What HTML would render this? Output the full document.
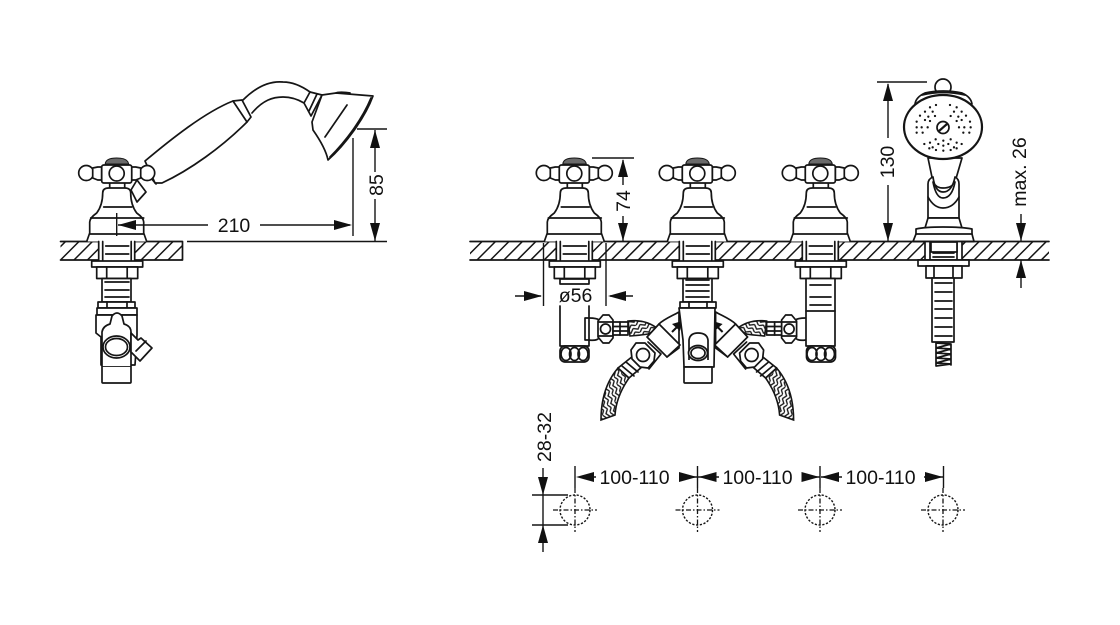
<!DOCTYPE html>
<html><head><meta charset="utf-8"><style>
html,body{margin:0;padding:0;background:#fff}
svg{display:block}
text{font-family:"Liberation Sans",Arial,sans-serif;font-size:19.5px;fill:#111}
.l{fill:none;stroke:#151515;stroke-width:1.7;stroke-linejoin:round;stroke-linecap:round}
.w{fill:#fff;stroke:#151515;stroke-width:1.7;stroke-linejoin:round}
.d{fill:none;stroke:#151515;stroke-width:1.4}
.c{fill:none;stroke:#151515;stroke-width:1.3;stroke-dasharray:5 2 1.5 2}
.o{fill:none;stroke:#151515;stroke-width:1.4;stroke-dasharray:2.2 1.6}
</style></head><body>
<svg width="1120" height="625" viewBox="0 0 1120 625" xmlns="http://www.w3.org/2000/svg">
<defs>
<pattern id="h" width="9.5" height="9.5" patternUnits="userSpaceOnUse" patternTransform="translate(4.8,0) rotate(45)"><line x1="4.75" y1="0" x2="4.75" y2="9.5" stroke="#151515" stroke-width="1.5"/></pattern>
<pattern id="b" width="8" height="8" patternUnits="userSpaceOnUse" patternTransform="rotate(-30)"><path d="M0 1L4 4L8 1M0 5L4 8L8 5" fill="none" stroke="#151515" stroke-width="1.3"/></pattern>
<pattern id="b2" width="8" height="8" patternUnits="userSpaceOnUse" patternTransform="rotate(70)"><path d="M0 1L4 4L8 1M0 5L4 8L8 5" fill="none" stroke="#151515" stroke-width="1.3"/></pattern>
<polygon id="a" points="0,0 -18,-5 -18,5" fill="#111"/>

<g id="tap">
<rect class="w" x="-7" y="182" width="15" height="7"/>
<path class="w" d="M-30 241.500L-27 233V222Q-27 218-20 213Q-14 205-14 193Q-14 188-8 188H8Q14 188 14 193Q14 205 20 213Q27 218 27 222V233L30 241.500"/>
<path class="l" d="M-13 207H15M-26 218H27M-27 234H27"/>
<circle class="w" cx="-30.500" cy="173" r="7.500"/><circle class="w" cx="30.500" cy="173" r="7.500"/>
<path class="w" d="M-24 168L-19 167H-15V180H-19L-24 178ZM24 168L19 167H15V180H19L24 178Z"/>
<rect class="w" x="-15" y="165" width="30" height="18" rx="2"/>
<circle class="w" cx="0" cy="173.500" r="7.500"/>
<path d="M-11.500 164Q-11 158 0 158Q11 158 12 164Z" fill="#6a6a6a" stroke="#151515"/>
</g>

<g id="shank">
<rect x="-18" y="241" width="36" height="20" fill="#fff"/>
<path class="l" d="M-18 241.500V260M-14 241.500V260M14.500 241.500V260M18 241.500V260M-11 246H12M-11 254H12"/>
<rect class="w" x="-25" y="261" width="51" height="6"/>
<rect class="w" x="-20" y="267" width="41" height="11.500"/>
<path class="l" d="M-10 267V278M10.500 267V278"/>
</g>

<g id="side">
<path class="w" d="M585 340V318H589Q597 318 599 320V338Q597 341 589 340Z"/>
<path class="w" d="M598 321L603 315H609L613 320V338L609 343H603L598 337Z"/>
<path class="l" d="M599 322H613M599 336H613"/>
<circle class="l" cx="605.500" cy="329" r="5"/>
<path class="w" d="M613 322H628V335H613Z"/>
<path class="l" d="M613 326.500H628M613 331H628M620 322V335"/>
<path d="M628 321Q646 319 658 329L648 334Q643 335 630 336Z" fill="url(#b)" stroke="#151515" stroke-width="1.6"/>
<path class="w" d="M659 324C664 319 672 316 679 312V348L667 357Z"/>
<path class="w" d="M647 337L659 324L680 345L667 357Z"/>
<path d="M672 332L679 325" stroke="#111" stroke-width="2"/>
<polygon points="682,321 680,331 672,324" fill="#111"/>
<path d="M618 368C606 382 601 400 601 420L615 415C616 400 622 388 629 378Z" fill="url(#b2)" stroke="#151515" stroke-width="1.6"/>
<path class="w" d="M618 368L633 356L643 366L629 378Z"/>
<path class="l" d="M622 366L634 376M626 362L638 372"/>
<path class="w" d="M631 350L636 343L645 343L655 353L654 361L648 368L640 367L632 359Z"/>
<circle class="l" cx="643" cy="355" r="6.500"/>
<path class="l" d="M648 342L661 354L649 369"/>
</g>
</defs>

<!-- left counter -->
<rect x="60.500" y="241.500" width="122" height="18.500" fill="url(#h)"/>
<path class="l" d="M60.500 241.500H182.500V260H60.500"/>
<path class="d" d="M187 241.500H387"/>

<!-- right counter -->
<rect x="470" y="241.500" width="579" height="18.500" fill="url(#h)"/>
<path class="l" d="M470 241.500H1049M470 260H1049"/>

<!-- hand shower left -->
<path class="w" d="M137 180L146 192L137 202L131 190Z"/>
<path class="w" d="M145 161C170 140 205 112 233 101L242 100L251 117L247 122C222 147 190 170 162 183L155 183Z"/>
<path class="l" d="M233 101L247 122M150 177L156 184"/>
<path class="l" d="M243 100C258 85 272 81 283 82C293 82 303 87 310 92M252 113C263 100 273 97 283 97C292 97 299 100 304 103"/>
<path class="w" d="M310 92L322 95L311 116L304 103Z"/>
<path class="l" d="M317 94L309 111"/>
<path class="w" d="M322 95L336 93L373 96C365 118 345 145 328 160C326 150 320 140 313 130L312 122Z"/>
<path class="l" d="M371 98C362 120 345 142 330 157M347 105L325 137M336 93C337 92 345 92 350 93"/>

<!-- left tap -->
<g transform="translate(116.700,0)"><use href="#tap"/><use href="#shank"/></g>
<rect class="w" x="102" y="278.500" width="29" height="23.500"/>
<path class="l" d="M105 282H129M105 290H129M105 297H129"/>
<rect class="w" x="98" y="302" width="37" height="6"/>
<path class="l" d="M107 302V307M127 302V307"/>
<rect class="w" x="97" y="308" width="40" height="7"/>
<path class="w" d="M96 315H137V335L135 365H101V337L96 333Z"/>
<path class="w" d="M102 366H131V382Q131 383 130 383H103Q102 383 102 382Z"/>
<path class="w" d="M102 366V332Q103 326 110 324L112 316Q117 310 122 316L124 324Q131 326 131 332V366"/>
<path class="w" d="M131 333L138 340L141 338L152 348L140 361L134 355L131 352Z"/>
<path class="l" d="M136 351L146 341"/>
<ellipse class="w" cx="116.500" cy="347" rx="13.500" ry="11"/>
<ellipse class="l" cx="116.500" cy="347" rx="11" ry="8.500"/>

<!-- taps on the right -->
<g transform="translate(574.300,0)"><use href="#tap"/><use href="#shank"/></g>
<g transform="translate(697.300,0)"><use href="#tap"/><use href="#shank"/></g>
<g transform="translate(820.300,0)"><use href="#tap"/><use href="#shank"/></g>

<!-- side valve connections -->
<use href="#side"/>
<use href="#side" transform="translate(1394.600,0) scale(-1,1)"/>

<!-- left riser -->
<path class="l" d="M560 279H589V284H560ZM560 306V346H589V306"/>
<rect class="w" x="560" y="346" width="29" height="16" rx="5"/>
<ellipse class="l" cx="566" cy="354" rx="5" ry="6.500"/><ellipse class="l" cx="574.500" cy="354" rx="5" ry="6.500"/><ellipse class="l" cx="583" cy="354" rx="5" ry="6.500"/>

<!-- right riser -->
<path class="w" d="M806 278.500H835V346H806Z"/>
<path class="l" d="M810 285H831M810 297H831M810 305H831M806 311H835"/>
<rect class="w" x="806.500" y="346" width="29" height="16" rx="5"/>
<ellipse class="l" cx="812" cy="354" rx="5" ry="6.500"/><ellipse class="l" cx="821" cy="354" rx="5" ry="6.500"/><ellipse class="l" cx="829.500" cy="354" rx="5" ry="6.500"/>

<!-- centre valve -->
<rect class="w" x="683" y="278.500" width="29" height="23.500"/>
<path class="l" d="M686 280H709M686 285H709M686 291H709M686 297H709"/>
<rect class="w" x="680" y="302" width="36" height="6"/>
<path class="l" d="M689 302V307M707 302V307"/>
<path class="w" d="M679 308H715L714 367H684L683 340Z"/>
<path class="w" d="M684 367H712V382Q712 383 711 383H685Q684 383 684 382Z"/>
<path class="w" d="M689 360V340Q690 333 698 333Q707 333 708 340V360"/>
<ellipse class="w" cx="698" cy="353" rx="9.500" ry="7.500"/>
<ellipse class="l" cx="698" cy="353" rx="7" ry="5.500"/>

<!-- right shower -->
<circle class="w" cx="943" cy="87" r="8"/>
<path class="w" d="M915 104Q916 97 925 93Q943 89 962 93Q971 97 972 104Z"/>
<path class="l" d="M922 95Q943 90 965 95"/>
<path class="w" d="M928 158L933 182Q936 188 943 188Q952 188 955 182L962 158Z"/>
<path class="w" d="M928 218V184Q928 179 933 177Q935 192 943 192Q952 192 955 177Q959 179 959 184V218Z"/>
<path class="l" d="M933 182Q936 198 943 198Q952 198 955 182"/>
<path class="l" d="M928 197Q934 208 943 208Q953 208 959 197"/>
<path class="w" d="M925 228L928 218H959L962 228Z"/>
<path class="w" d="M913 241.500L916 234V229Q925 227 943 227Q962 227 972 229V234L974 241.500Z"/>
<path class="l" d="M916 234H972"/>
<ellipse cx="943" cy="127" rx="39" ry="32" fill="#fff" stroke="#151515" stroke-width="2.200"/>
<g transform="translate(860,70) scale(.3333)">
<path fill="none" stroke="#151515" stroke-width="7" stroke-linecap="round" d="M228 105h0M210 112h0M218 125h0M225 138h0M195 125h0M205 140h0M210 153h0M180 137h0M195 150h0M170 155h0M170 172h0M185 172h0M203 172h0M170 188h0M188 188h0M270 105h0M290 112h0M282 125h0M272 138h0M305 125h0M295 140h0M290 153h0M318 137h0M305 150h0M330 155h0M297 172h0M313 172h0M332 172h0M310 188h0M328 188h0M250 212h0M250 227h0M250 242h0M227 208h0M235 222h0M228 240h0M210 218h0M218 232h0M193 222h0M208 235h0M272 208h0M265 222h0M272 240h0M290 218h0M282 232h0M305 222h0M290 235h0"/>
</g>
<circle class="l" cx="943" cy="127.500" r="6"/>
<path d="M939 131L947 124" stroke="#151515" stroke-width="2.200"/>

<rect x="925" y="241.500" width="37" height="19" fill="#fff"/>
<path class="l" d="M925 241.500V260M930 241.500V260M957 241.500V260M962 241.500V260"/>
<path class="w" d="M931 242H957V252H931Z"/>
<path class="l" d="M933 253H954M933 257H954M913 241.500H974M918 260H969"/>
<rect class="w" x="918" y="260" width="51" height="6"/>
<rect class="w" x="926" y="266" width="36" height="12"/>
<path class="l" d="M934 266V278M953 266V278"/>
<rect class="w" x="932" y="278" width="22" height="64"/>
<path class="l" d="M935 283H952M935 292H952M935 301H952M935 309H952M935 318H952M935 327H952M935 336H952"/>
<path class="l" d="M936 343L951 344L936 348L951 349L936 353L951 354L936 358L951 359L936 363L951 364L936 366M936 343V366M951 344V365"/>

<!-- dimensions left -->
<path class="d" d="M116.700 213V236M118 225H208M260 225H350M353 138V236M357 129H387"/>
<use href="#a" transform="translate(118,225) rotate(180)"/>
<use href="#a" transform="translate(352,225)"/>
<text x="234" y="232" text-anchor="middle">210</text>
<path class="d" d="M375 130V172M375 199V241"/>
<use href="#a" transform="translate(375,130) rotate(-90)"/>
<use href="#a" transform="translate(375,241) rotate(90)"/>
<text transform="translate(383,185) rotate(-90)" text-anchor="middle">85</text>

<!-- 74 -->
<path class="d" d="M592 158H634M623 160V185M623 216V241"/>
<use href="#a" transform="translate(623,159) rotate(-90)"/>
<use href="#a" transform="translate(623,241) rotate(90)"/>
<text transform="translate(630,201) rotate(-90)" text-anchor="middle">74</text>

<!-- o56 -->
<path class="d" d="M543.500 243V306M606 243V306M515 296H541M610 296H633"/>
<use href="#a" transform="translate(542,296)"/>
<use href="#a" transform="translate(608,296) rotate(180)"/>
<text x="575.500" y="302" text-anchor="middle">ø56</text>

<!-- 130 -->
<path class="d" d="M877 82H927M888 84V138M888 185V241"/>
<use href="#a" transform="translate(888,83) rotate(-90)"/>
<use href="#a" transform="translate(888,241) rotate(90)"/>
<text transform="translate(894,162) rotate(-90)" text-anchor="middle">130</text>

<!-- max 26 -->
<text transform="translate(1026,172) rotate(-90)" text-anchor="middle">max. 26</text>
<path class="d" d="M1021 214V241M1021 260V288"/>
<use href="#a" transform="translate(1021,241) rotate(90)"/>
<use href="#a" transform="translate(1021,260) rotate(-90)"/>

<!-- holes -->
<g id="hole"><circle class="o" cx="575" cy="510" r="15"/><path class="c" d="M553 510H597M575 488V532"/></g>
<use href="#hole" transform="translate(122.500,0)"/>
<use href="#hole" transform="translate(245,0)"/>
<use href="#hole" transform="translate(368,0)"/>

<path class="d" d="M575 466V488M697.500 466V488M820 466V488M943.500 466V488"/>
<path class="d" d="M590 477H596M679 477H697M698 477H719M802 477H820M821 477H842M924 477H943"/>
<use href="#a" transform="translate(576,477) rotate(180)"/>
<use href="#a" transform="translate(697,477)"/>
<use href="#a" transform="translate(698.500,477) rotate(180)"/>
<use href="#a" transform="translate(819.500,477)"/>
<use href="#a" transform="translate(821,477) rotate(180)"/>
<use href="#a" transform="translate(943,477)"/>
<text x="634.500" y="484" text-anchor="middle">100-110</text>
<text x="757.500" y="484" text-anchor="middle">100-110</text>
<text x="880.500" y="484" text-anchor="middle">100-110</text>

<!-- 28-32 -->
<path class="d" d="M532 495H568M532 525H568M543 468V552"/>
<use href="#a" transform="translate(543,495) rotate(90)"/>
<use href="#a" transform="translate(543,525) rotate(-90)"/>
<text transform="translate(551,437) rotate(-90)" text-anchor="middle">28-32</text>
</svg>
</body></html>
